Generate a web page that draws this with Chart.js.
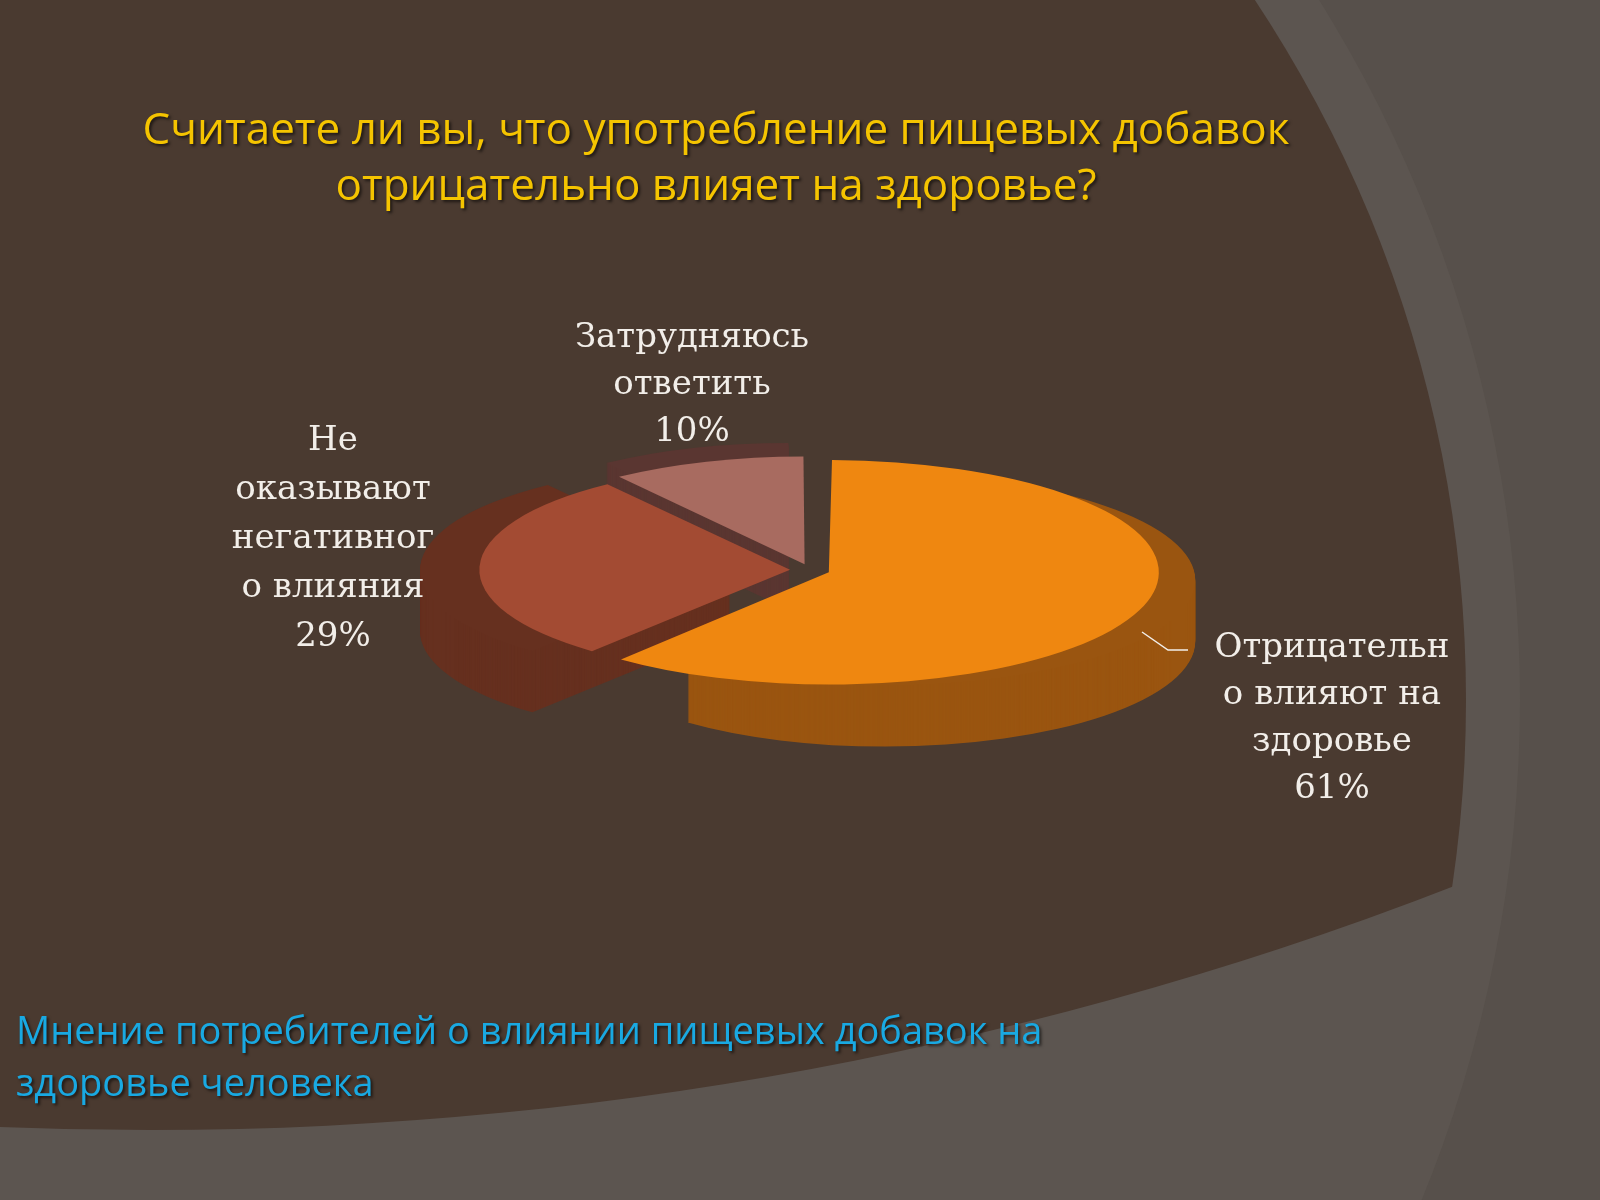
<!DOCTYPE html>
<html><head><meta charset="utf-8">
<script src="https://cdn.jsdelivr.net/npm/chart.js@4/dist/chart.umd.min.js"></script>
<style>html,body{margin:0;padding:0;background:#57504b}#w{width:1600px;height:1200px;position:relative}</style>
</head><body><div id="w"><canvas id="c" width="1600" height="1200"></canvas></div>
<script>
const categories=[["Отрицательн","о влияют на","здоровье"],["Не","оказывают","негативног","о влияния"],["Затрудняюсь","ответить"]];
const values=[61,29,10];
const topColors=['#ef8710','#a34b33','#a86b60'];
const sideColors=['#9a5510','#66301f','#5a3631'];
const titleLines=["Считаете ли вы, что употребление пищевых добавок","отрицательно влияет на здоровье?"];
const captionLines=["Мнение потребителей о влиянии пищевых добавок на","здоровье человека"];
const labelPos=[[1332,648,47],[333,441,49],[692,338,47]];
const SY=0.34, DEPTH=62;
function squash(ctx,chart){const a=chart.chartArea;const cy=(a.top+a.bottom)/2;ctx.translate(0,cy);ctx.scale(1,SY);ctx.translate(0,-cy);}
const bg={id:'bg',beforeDraw(chart){const ctx=chart.ctx;ctx.save();ctx.fillStyle='#57504b';ctx.fillRect(0,0,1600,1200);
 ctx.fillStyle='#5c5550';ctx.beginPath();ctx.arc(200,700,1320,0,Math.PI*2);ctx.fill();
 ctx.beginPath();ctx.arc(200,700,1266,0,Math.PI*2);ctx.clip();ctx.beginPath();ctx.arc(150,-2480,3610,0,Math.PI*2);ctx.clip();
 ctx.fillStyle='#4a3a30';ctx.fillRect(0,0,1600,1200);ctx.restore();}};
const pie3d={id:'pie3d',beforeDatasetsDraw(chart){const ctx=chart.ctx;const meta=chart.getDatasetMeta(0);
 for(let d=DEPTH;d>=1;d-=1){meta.data.forEach((el,i)=>{const p=el.getProps(['x','y','startAngle','endAngle','outerRadius']);const off=el.options.offset||0;const m=(p.startAngle+p.endAngle)/2;
  const x=p.x+Math.cos(m)*off,y=p.y+Math.sin(m)*off;ctx.save();ctx.translate(0,d);squash(ctx,chart);ctx.fillStyle=sideColors[i];ctx.beginPath();ctx.moveTo(x,y);ctx.arc(x,y,p.outerRadius,p.startAngle,p.endAngle);ctx.closePath();ctx.fill();ctx.restore();});}
 ctx.save();squash(ctx,chart);},
 afterDatasetsDraw(chart){const ctx=chart.ctx;ctx.restore();ctx.save();
 ctx.fillStyle='#f5c400';ctx.font='44px "Open Sans", "Noto Sans", sans-serif';ctx.textAlign='center';ctx.textBaseline='middle';
 ctx.shadowColor='rgba(0,0,0,0.6)';ctx.shadowOffsetX=2;ctx.shadowOffsetY=2;ctx.shadowBlur=3;
 titleLines.forEach((t,i)=>ctx.fillText(t,716,131+i*56));
 ctx.fillStyle='#19a9e2';ctx.font='38px "Open Sans", "Noto Sans", sans-serif';ctx.textAlign='left';
 captionLines.forEach((t,i)=>ctx.fillText(t,16,1033+i*52));
 ctx.shadowColor='transparent';ctx.fillStyle='#f2eee9';ctx.font='34px "DejaVu Serif", "Liberation Serif", serif';ctx.textAlign='center';
 categories.forEach((lines,i)=>{const [x,y,s]=labelPos[i];const all=lines.concat([values[i]+'%']);all.forEach((t,j)=>ctx.fillText(t,x,y+j*s));});
 ctx.strokeStyle='#f2eee9';ctx.lineWidth=1.5;ctx.beginPath();ctx.moveTo(1142,632);ctx.lineTo(1168,650);ctx.lineTo(1188,650);ctx.stroke();ctx.restore();}};
new Chart(document.getElementById('c'),{type:'pie',
 data:{labels:categories.map(c=>c.join(' ')),datasets:[{data:values,backgroundColor:topColors,borderWidth:0,offset:[80,80,70],hoverOffset:0}]},
 options:{responsive:false,devicePixelRatio:1,animation:false,events:[],
  layout:{padding:{left:460,right:440,top:190,bottom:250}},
  plugins:{legend:{display:false},tooltip:{enabled:false}}},
 plugins:[bg,pie3d]});
</script></body></html>
